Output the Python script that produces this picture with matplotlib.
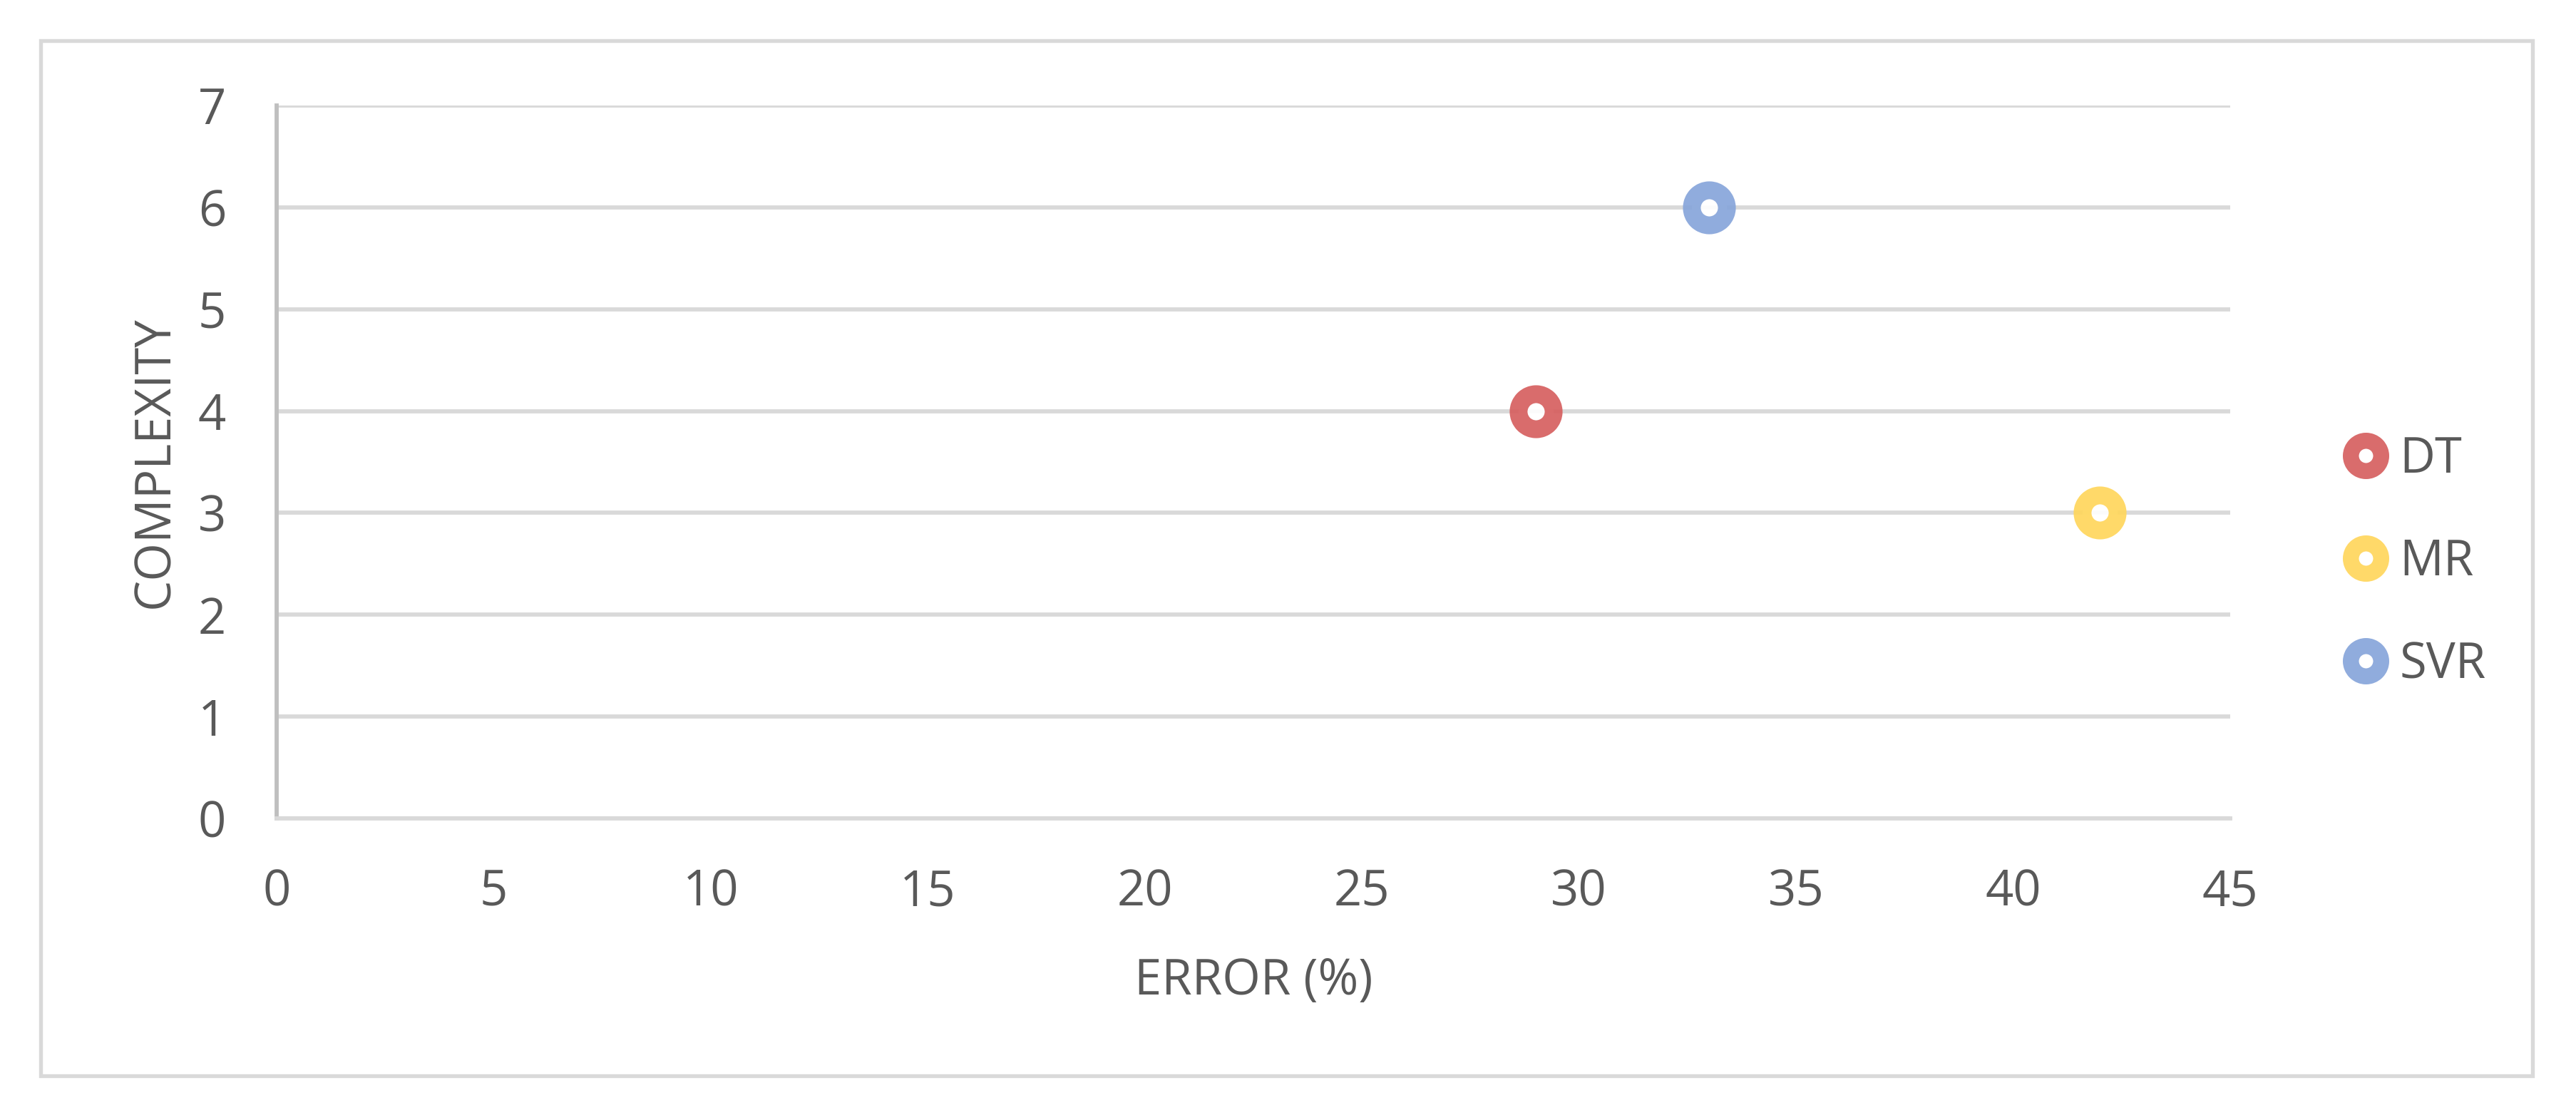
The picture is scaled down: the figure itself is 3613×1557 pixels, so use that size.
import matplotlib.pyplot as plt
from matplotlib.patches import Rectangle
from matplotlib.lines import Line2D

# 数据
models = ['DT', 'MR', 'SVR']
errors = [29, 42, 33]
complexity = [4, 3, 6]
colors = ['#D65F5F', '#FFD65C', '#87A5DA']

x_ticks = [0, 5, 10, 15, 20, 25, 30, 35, 40, 45]
y_ticks = [0, 1, 2, 3, 4, 5, 6, 7]

text_color = '#595959'
grid_color = '#D9D9D9'
fs = 16.5

plt.rcParams['font.family'] = ['Open Sans', 'DejaVu Sans']

fig = plt.figure(figsize=(3613 / 300, 1557 / 300), dpi=300)
ax = fig.add_axes([0.1074, 0.2627, 0.7583, 0.6423])

# 散点，白色中心的圆环
for name, x, y, c in zip(models, errors, complexity, colors):
    ax.plot(x, y, 'o', ms=11.8, mfc='white', mec=c, mew=6.0,
            alpha=0.92, label=name, zorder=3)

ax.set_xlim(0, 45)
ax.set_ylim(0, 7)
ax.set_xticks(x_ticks)
ax.set_yticks(y_ticks)
ax.tick_params(length=0, labelsize=fs, colors=text_color)
ax.tick_params(axis='y', pad=17)
ax.tick_params(axis='x', pad=16.7)

ax.grid(axis='y', color=grid_color, lw=1.4, zorder=0)
ax.set_axisbelow(True)
for s in ['top', 'right']:
    ax.spines[s].set_visible(False)
ax.spines['bottom'].set_color(grid_color)
ax.spines['bottom'].set_linewidth(1.4)
ax.spines['left'].set_color('#BFBFBF')
ax.spines['left'].set_linewidth(1.4)

ax.set_xlabel('ERROR (%)', fontsize=fs, color=text_color, labelpad=13)
ax.set_ylabel('COMPLEXITY', fontsize=fs, color=text_color, labelpad=6)

# 图例
handles = [Line2D([], [], ls='none', marker='o', ms=10.2, mfc='white', mec=c,
                  mew=5.4, alpha=0.92) for c in colors]
leg = fig.legend(handles, models, loc='center left',
                 bbox_to_anchor=(0.903, 0.4933), frameon=False,
                 fontsize=fs, labelcolor=text_color, handlelength=0.8,
                 handletextpad=0.3, labelspacing=1.08, borderaxespad=0)

# 外框
fig.patches.append(Rectangle((0.0158, 0.0308), 0.9672, 0.9326,
                             transform=fig.transFigure, fill=False,
                             ec=grid_color, lw=1.3))

fig.savefig('out.png', dpi=300)
